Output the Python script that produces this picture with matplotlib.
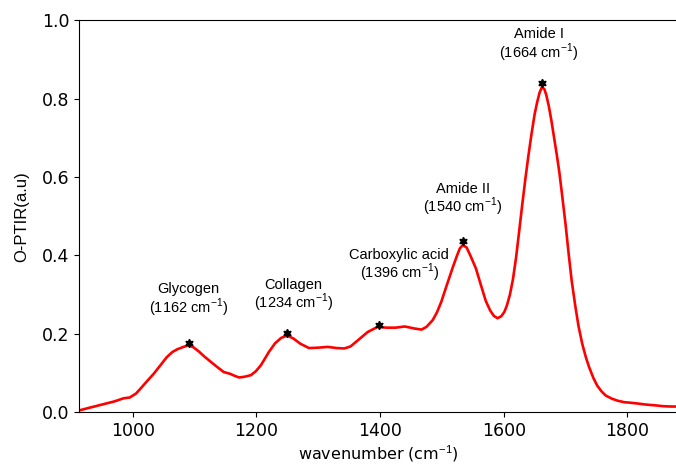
import numpy as np
import matplotlib
matplotlib.use("Agg")
import matplotlib.pyplot as plt

# spectrum
wavenumber = [913, 930, 950, 970, 985, 995, 1005, 1012, 1022, 1034, 1045, 1055,
              1064, 1072, 1082, 1090, 1098, 1107, 1116, 1126, 1137, 1147, 1158,
              1165, 1172, 1181, 1191, 1199, 1207, 1214, 1220, 1230, 1240, 1250,
              1260, 1271, 1285, 1300, 1315, 1330, 1342, 1352, 1365, 1380, 1396,
              1410, 1425, 1440, 1455, 1467, 1475, 1485, 1492, 1499, 1508, 1517,
              1524, 1529, 1534, 1540, 1546, 1555, 1563, 1571, 1578, 1584, 1590,
              1596, 1601, 1605, 1610, 1615, 1620, 1625, 1630, 1635, 1640, 1645,
              1650, 1654, 1658, 1662, 1666, 1669, 1673, 1677, 1681, 1686, 1690,
              1694, 1700, 1705, 1710, 1716, 1721, 1727, 1733, 1738, 1745, 1751,
              1758, 1765, 1775, 1784, 1795, 1803, 1815, 1830, 1845, 1857, 1870,
              1883]
intensity = [0.005, 0.012, 0.020, 0.028, 0.036, 0.038, 0.048, 0.060, 0.078, 0.099,
             0.121, 0.141, 0.154, 0.161, 0.167, 0.171, 0.166, 0.155, 0.142, 0.129,
             0.115, 0.103, 0.098, 0.093, 0.089, 0.091, 0.095, 0.105, 0.120, 0.138,
             0.154, 0.176, 0.190, 0.196, 0.188, 0.175, 0.164, 0.165, 0.167, 0.164,
             0.163, 0.168, 0.185, 0.205, 0.218, 0.216, 0.216, 0.219, 0.214, 0.211,
             0.218, 0.235, 0.255, 0.282, 0.325, 0.367, 0.398, 0.418, 0.427, 0.420,
             0.400, 0.367, 0.325, 0.284, 0.260, 0.246, 0.240, 0.245, 0.256, 0.272,
             0.300, 0.340, 0.395, 0.462, 0.530, 0.595, 0.655, 0.710, 0.760, 0.790,
             0.815, 0.830, 0.823, 0.808, 0.780, 0.745, 0.705, 0.655, 0.612, 0.560,
             0.480, 0.405, 0.335, 0.269, 0.220, 0.175, 0.140, 0.116, 0.088, 0.069,
             0.054, 0.043, 0.035, 0.030, 0.026, 0.025, 0.023, 0.020, 0.018, 0.016,
             0.015, 0.015]

peak_x = [1091, 1250, 1398, 1534, 1662]
peak_y = [0.178, 0.203, 0.224, 0.436, 0.840]

labels = ["Glycogen\n(1162 cm$^{-1}$)", "Collagen\n(1234 cm$^{-1}$)",
          "Carboxylic acid\n(1396 cm$^{-1}$)", "Amide II\n(1540 cm$^{-1}$)",
          "Amide I\n(1664 cm$^{-1}$)"]
label_x = [1090, 1260, 1431, 1534, 1657]
label_y = [0.285, 0.296, 0.374, 0.541, 0.935]

plt.rcParams["mathtext.fontset"] = "custom"
plt.rcParams["mathtext.rm"] = "Liberation Sans"

fig = plt.figure(figsize=(6.76, 4.66), dpi=100)
ax = fig.add_axes([0.117, 0.115, 0.886, 0.842])

ax.plot(wavenumber, intensity, color="red", linewidth=1.9)
ax.plot(peak_x, peak_y, linestyle="none", marker=(6, 1, 0), markersize=6,
        color="black")

for txt, x, y in zip(labels, label_x, label_y):
    ax.text(x, y, txt, ha="center", va="center", fontsize=10.5,
            family="Liberation Sans", linespacing=1.0)

ax.set_xlim(913, 1882)
ax.set_ylim(0, 1.0)
ax.set_xticks([1000, 1200, 1400, 1600, 1800])
ax.set_yticks([0.0, 0.2, 0.4, 0.6, 0.8, 1.0])
ax.tick_params(labelsize=12.5)

ax.set_xlabel("wavenumber (cm$^{-1}$)", fontsize=11.5, labelpad=2)
ax.set_ylabel("O-PTIR(a.u)", fontsize=12, family="Liberation Sans", labelpad=9)

fig.savefig("out.png", dpi=100)
